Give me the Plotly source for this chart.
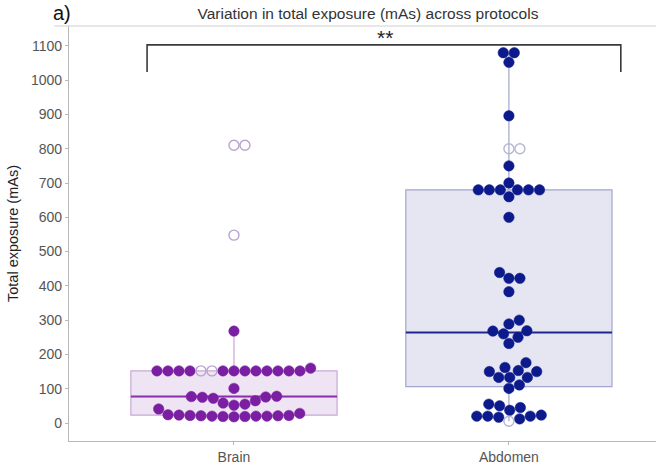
import math
import numpy as np
import plotly.graph_objects as go

# ---- data (listed in the order the swarm places them) -----------------
groups = ["Brain", "Abdomen"]

brain_values = [18, 19, 19, 20, 20, 20, 21, 21, 22, 22, 23, 28, 24, 41,
                52, 55, 58, 65, 72, 75, 76, 77, 78, 101,
                152, 152, 152, 152, 152, 152, 152, 152, 152, 152, 152, 152, 152,
                160, 152,
                268, 548, 810, 810]
brain_open = [0, 0, 0, 0, 0, 0, 0, 0, 0, 0, 0, 0, 0, 0,
              0, 0, 0, 0, 0, 0, 0, 0, 0, 0,
              0, 0, 0, 0, 1, 0, 1, 0, 0, 0, 0, 0, 0,
              0, 0,
              0, 1, 1, 1]

abdomen_values = [5, 12, 17, 20, 20, 20, 23, 37, 45, 50, 55,
                  101, 111, 133, 133, 133, 150, 150, 153, 162, 176,
                  232, 250, 260, 268, 269, 289, 300,
                  383, 422, 422, 439,
                  600, 660, 680, 680, 680, 680, 680, 680, 700, 750,
                  800, 800, 896, 1052, 1080, 1080]
abdomen_open = [1, 0, 0, 0, 0, 0, 0, 0, 0, 0, 0,
                0, 0, 0, 0, 0, 0, 0, 0, 0, 0,
                0, 0, 0, 0, 0, 0, 0,
                0, 0, 0, 0,
                0, 0, 0, 0, 0, 0, 0, 0, 0, 0,
                1, 1, 0, 0, 0, 0]

y_ticks = list(range(0, 1101, 100))

# ---- style ------------------------------------------------------------
W, H = 656, 465
M_L, M_R, M_T, M_B = 69, 0, 26, 24
X_RANGE = [0.4, 2.535]
Y_RANGE = [-52.5, 1158]
DOT = 11.0

styles = {
    "Brain": dict(dot="#7b1fa2", open="#b9a3cf", fill="#efe4f3",
                  edge="#c8a8d8", median="#8a2fae"),
    "Abdomen": dict(dot="#0c1a8c", open="#b5b6d4", fill="#e5e6f1",
                    edge="#a3a6cc", median="#1c278f"),
}

px_per_x = (W - M_L - M_R) / (X_RANGE[1] - X_RANGE[0])
px_per_y = (H - M_T - M_B) / (Y_RANGE[1] - Y_RANGE[0])


def swarm(values, center):
    """Beeswarm layout: points are placed in the given order, each taking the
    free horizontal slot nearest the centre line (right side wins ties)."""
    vals = np.asarray(values, dtype=float)
    placed = []
    offs = np.zeros(len(vals))
    for i in range(len(vals)):
        y = vals[i] * px_per_y
        near = [(px, py) for px, py in placed if abs(py - y) < DOT]
        cands = [0.0]
        for px, py in near:
            dx = math.sqrt(DOT ** 2 - (py - y) ** 2)
            cands += [px - dx, px + dx]
        cands.sort(key=lambda c: (round(abs(c), 6), -c))
        for c in cands:
            if all((c - px) ** 2 + (y - py) ** 2 >= DOT ** 2 - 1e-6 for px, py in near):
                offs[i] = c
                break
        placed.append((offs[i], y))
    return center + offs / px_per_x


fig = go.Figure()

data = {"Brain": (brain_values, brain_open), "Abdomen": (abdomen_values, abdomen_open)}

for k, name in enumerate(groups):
    vals, opn = data[name]
    st = styles[name]
    pos = k + 1
    # box + whiskers (Tukey fences); outlier markers hidden, points drawn by the swarm
    fig.add_trace(go.Box(
        y=vals, x0=pos, width=0.75, name=name,
        fillcolor=st["fill"], line=dict(color=st["edge"], width=1.2),
        whiskerwidth=0, boxpoints="outliers", marker=dict(opacity=0, size=1),
        quartilemethod="linear", hoverinfo="skip", showlegend=False))
    med = float(np.median(vals))
    fig.add_trace(go.Scatter(
        x=[pos - 0.375, pos + 0.375], y=[med, med], mode="lines",
        line=dict(color=st["median"], width=2), hoverinfo="skip", showlegend=False))

    xs = swarm(vals, pos)
    opn = np.asarray(opn, dtype=bool)
    vals = np.asarray(vals, dtype=float)
    fig.add_trace(go.Scatter(
        x=xs[~opn], y=vals[~opn], mode="markers",
        marker=dict(symbol="circle", size=DOT - 0.5, color=st["dot"],
                    line=dict(color=st["dot"], width=0.5)),
        showlegend=False, hoverinfo="y"))
    fig.add_trace(go.Scatter(
        x=xs[opn], y=vals[opn], mode="markers",
        marker=dict(symbol="circle-open", size=DOT - 1, color=st["open"],
                    line=dict(color=st["open"], width=1.4)),
        showlegend=False, hoverinfo="y"))

# significance bracket between the two groups
bx0, bx1, by0, by1 = 0.684, 2.407, 1024, 1103
fig.add_shape(type="path",
              path=f"M {bx0},{by0} L {bx0},{by1} L {bx1},{by1} L {bx1},{by0}",
              line=dict(color="#3a3a3a", width=1.6), xref="x", yref="y")
fig.add_annotation(x=1.55, y=1103, text="**", showarrow=False, yanchor="bottom",
                   yshift=-6, font=dict(size=21, color="#222222"))

# thin rule under the heading
fig.add_shape(type="line", xref="paper", yref="paper",
              x0=-0.025, x1=1.0, y0=1.0, y1=1.0,
              line=dict(color="#cfcfcf", width=1))

fig.add_annotation(xref="paper", yref="paper", x=-0.03, y=1.0, yanchor="bottom",
                   xanchor="left", yshift=0, text="a)", showarrow=False,
                   font=dict(size=20, color="#111111"))

fig.update_layout(
    width=W, height=H,
    margin=dict(l=M_L, r=M_R, t=M_T, b=M_B),
    paper_bgcolor="white", plot_bgcolor="white",
    font=dict(family="Liberation Sans, Arial, sans-serif", color="#555555"),
    title=dict(text="Variation in total exposure (mAs) across protocols",
               x=368 / W, xanchor="center", y=1 - 14 / H, yanchor="middle",
               font=dict(size=15.5, color="#333333")),
    xaxis=dict(range=X_RANGE, tickmode="array", tickvals=[1, 2], ticktext=groups,
               showgrid=False, zeroline=False, showline=True, linecolor="#b8b8b8",
               linewidth=1.3, ticks="outside", ticklen=3, tickcolor="#b8b8b8",
               tickfont=dict(size=14, color="#555555")),
    yaxis=dict(range=Y_RANGE, tickmode="array", tickvals=y_ticks,
               showgrid=False, zeroline=False, showline=True, linecolor="#b8b8b8",
               linewidth=1.3, ticks="outside", ticklen=3, tickcolor="#b8b8b8",
               tickfont=dict(size=14, color="#555555"),
               title=dict(text="Total exposure (mAs)", standoff=8,
                          font=dict(size=14.5, color="#222222"))),
)

fig.write_html("out.html")
